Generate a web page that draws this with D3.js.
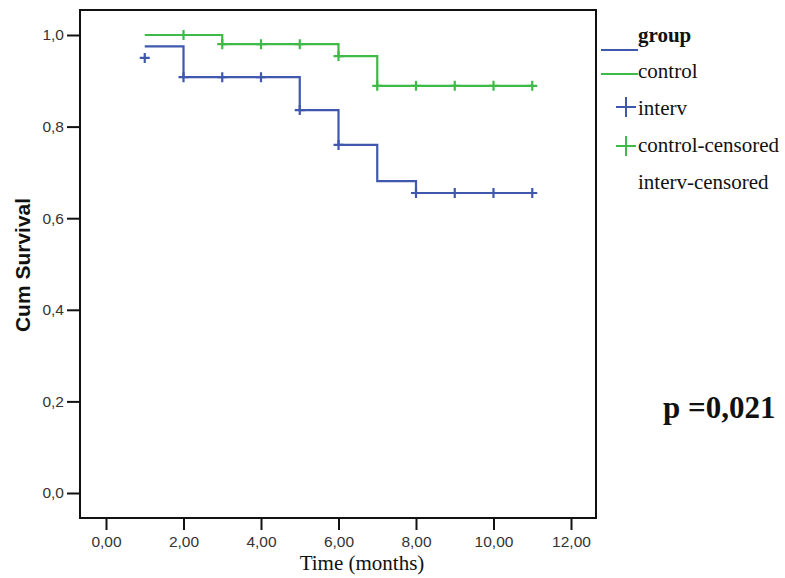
<!DOCTYPE html>
<html>
<head>
<meta charset="utf-8">
<script src="https://cdn.jsdelivr.net/npm/d3@7"></script>
<style>
  html, body { margin: 0; padding: 0; background: #fff; }
  svg { display: block; }
</style>
</head>
<body>
<svg id="chart" width="785" height="578"></svg>
<script>
// ---- data ----
const xTicks = [0, 2, 4, 6, 8, 10, 12];
const yTicks = [0, 0.2, 0.4, 0.6, 0.8, 1.0];

// Step points [time, survival]
const controlSteps = [[1, 1.0], [3, 0.980], [6, 0.954], [7, 0.889], [11, 0.889]];
const controlCensored = [[2, 1.0], [3, 0.980], [4, 0.980], [5, 0.980], [6, 0.954], [7, 0.889], [8, 0.889], [9, 0.889], [10, 0.889], [11, 0.889]];

const intervSteps = [[1, 0.975], [2, 0.908], [5, 0.836], [6, 0.760], [7, 0.681], [8, 0.655], [11, 0.655]];
const intervCensored = [[1, 0.950], [2, 0.908], [3, 0.908], [4, 0.908], [5, 0.836], [6, 0.760], [8, 0.655], [9, 0.655], [10, 0.655], [11, 0.655]];

const legendLabels = ["control", "interv", "control-censored", "interv-censored"];
const pValueText = "p =0,021";

const BLUE = "#3f58ae";
const GREEN = "#3dba48";

// ---- layout ----
const svg = d3.select("#chart");
const frame = { left: 80, top: 10, right: 596, bottom: 518 };

const x = d3.scaleLinear().domain([0, 12]).range([106, 571]);
const y = d3.scaleLinear().domain([0, 1]).range([493, 35]);

const fmtX = v => d3.format(".2f")(v).replace(".", ",");
const fmtY = v => d3.format(".1f")(v).replace(".", ",");

// frame
svg.append("rect")
  .attr("x", frame.left).attr("y", frame.top)
  .attr("width", frame.right - frame.left).attr("height", frame.bottom - frame.top)
  .attr("fill", "none").attr("stroke", "#111").attr("stroke-width", 2);

// y axis
const yAxis = d3.axisLeft(y).tickValues(yTicks).tickFormat(fmtY).tickSize(13).tickPadding(3);
const gy = svg.append("g").attr("transform", `translate(${frame.left},0)`).call(yAxis);
gy.select(".domain").remove();
gy.selectAll(".tick line").attr("stroke", "#111").attr("stroke-width", 2);
gy.selectAll(".tick text").attr("font-family", "Liberation Sans, Arial, sans-serif")
  .attr("font-size", 15.5).attr("fill", "#333");

// x axis
const xAxis = d3.axisBottom(x).tickValues(xTicks).tickFormat(fmtX).tickSize(12).tickPadding(6);
const gx = svg.append("g").attr("transform", `translate(0,${frame.bottom})`).call(xAxis);
gx.select(".domain").remove();
gx.selectAll(".tick line").attr("stroke", "#111").attr("stroke-width", 2);
gx.selectAll(".tick text").attr("font-family", "Liberation Sans, Arial, sans-serif")
  .attr("font-size", 15.5).attr("fill", "#333");

// axis titles
svg.append("text")
  .attr("x", 362).attr("y", 570)
  .attr("text-anchor", "middle")
  .attr("font-family", "Liberation Serif, Times New Roman, serif")
  .attr("font-size", 21).attr("fill", "#111")
  .text("Time (months)");

svg.append("text")
  .attr("transform", "translate(30,265) rotate(-90)")
  .attr("text-anchor", "middle")
  .attr("font-family", "Liberation Sans, Arial, sans-serif")
  .attr("font-weight", "bold")
  .attr("font-size", 21).attr("fill", "#111")
  .text("Cum Survival");

// step lines
const line = d3.line().x(d => x(d[0])).y(d => y(d[1])).curve(d3.curveStepAfter);

svg.append("path").datum(controlSteps)
  .attr("d", line).attr("fill", "none").attr("stroke", GREEN).attr("stroke-width", 2.2);
svg.append("path").datum(intervSteps)
  .attr("d", line).attr("fill", "none").attr("stroke", BLUE).attr("stroke-width", 2.2);

// censor plus marks
function plus(g, data, color) {
  const s = 5;
  g.selectAll(null).data(data).enter().append("path")
    .attr("d", d => {
      const cx = x(d[0]), cy = y(d[1]);
      return `M${cx - s},${cy}H${cx + s}M${cx},${cy - s}V${cy + s}`;
    })
    .attr("stroke", color).attr("stroke-width", 2.2).attr("fill", "none");
}
plus(svg.append("g"), controlCensored, GREEN);
plus(svg.append("g"), intervCensored, BLUE);

// legend
const serif = "Liberation Serif, Times New Roman, serif";
const lg = svg.append("g");
lg.append("text").attr("x", 638).attr("y", 42)
  .attr("font-family", serif).attr("font-weight", "bold").attr("font-size", 21)
  .attr("fill", "#111").text("group");
lg.append("line").attr("x1", 601).attr("x2", 638).attr("y1", 50).attr("y2", 50)
  .attr("stroke", BLUE).attr("stroke-width", 2);
lg.append("line").attr("x1", 601).attr("x2", 638).attr("y1", 74).attr("y2", 74)
  .attr("stroke", GREEN).attr("stroke-width", 2);

const legendY = [78, 115, 152, 189];
legendLabels.forEach((t, i) => {
  lg.append("text").attr("x", 638).attr("y", legendY[i])
    .attr("font-family", serif).attr("font-size", 21).attr("fill", "#111").text(t);
});
function legendPlus(cx, cy, color) {
  lg.append("path").attr("d", `M${cx - 10},${cy}H${cx + 10}M${cx},${cy - 10}V${cy + 10}`)
    .attr("stroke", color).attr("stroke-width", 2).attr("fill", "none");
}
legendPlus(626, 107, BLUE);
legendPlus(626, 146, GREEN);

// p value
svg.append("text").attr("x", 663).attr("y", 418)
  .attr("font-family", serif).attr("font-weight", "bold").attr("font-size", 31)
  .attr("fill", "#111").text(pValueText);
</script>
</body>
</html>
